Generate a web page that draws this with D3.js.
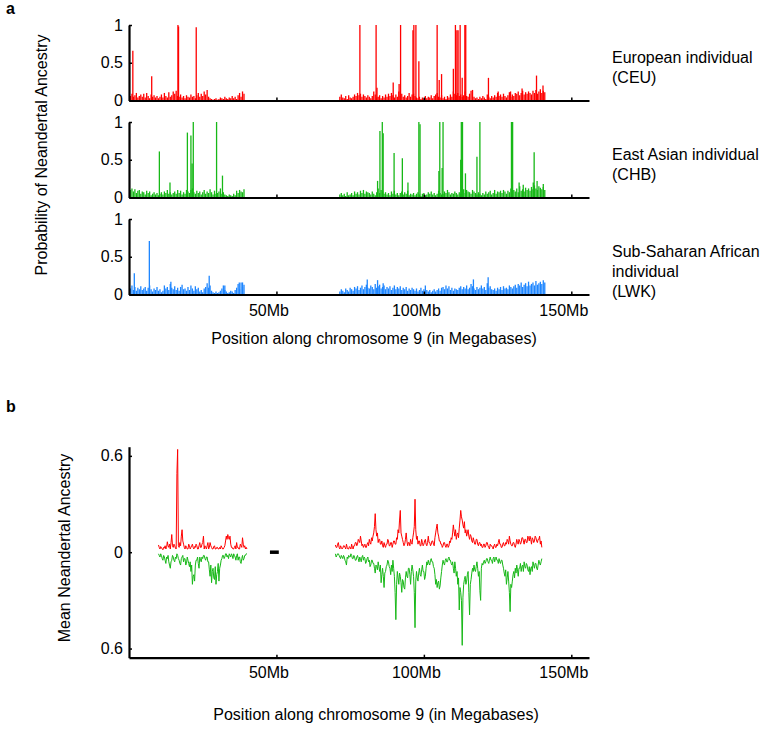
<!DOCTYPE html>
<html><head><meta charset="utf-8">
<script src="https://cdn.jsdelivr.net/npm/d3@7"></script>
<style>
body{margin:0;background:#fff}
text{font-family:"Liberation Sans",Arial,Helvetica,sans-serif;fill:#000}
</style>
</head><body>
<svg id="chart" width="764" height="738"></svg>
<script>
// ---------------- DATA ----------------
// Panel a: per-window probability of Neandertal ancestry (windows every 0.5 Mb)
const gridStep = 0.5;
const leftStartA = 0.5;    // first window of p-arm segment (Mb)
const rightStartA = 71.5;  // first window of q-arm segment (Mb)

const ceuLeft = [.06,.09,.05,.07,.1,.04,.06,.08,.05,.09,
 .04,.1,.06,.03,.08,.05,.07,.04,.06,.03,
 .05,.08,.04,.1,.06,.04,.11,.05,.07,.12,
 .09,.13,.06,.05,.08,.04,.06,.03,.07,.05,
 .04,.08,.05,.06,.03,.07,.1,.05,.09,.06,
 .12,.08,.14,.05,.03,.02,.01,.02,.03,.01,
 .02,.04,.03,.02,.05,.03,.02,.04,.03,.06,
 .03,.05,.02,.07,.1,.05,.12,.09];
const ceuRight = [.05,.08,.04,.03,.06,.02,.07,.04,.03,.05,
 .08,.06,.1,.07,.09,.05,.08,.06,.04,.07,
 .05,.03,.06,.12,.08,.04,.05,.07,.03,.06,
 .04,.08,.05,.09,.06,.1,.07,.04,.08,.05,
 .12,.06,.09,.05,.07,.04,.06,.1,.05,.08,
 .09,.06,.04,.03,.05,.02,.04,.03,.06,.03,
 .05,.04,.07,.03,.06,.08,.1,.05,.04,.07,
 .03,.05,.02,.06,.04,.08,.05,.12,.09,.07,
 .1,.06,.08,.05,.07,.12,.06,.05,.09,.13,
 .14,.05,.03,.04,.02,.05,.03,.06,.04,.02,
 .08,.05,.03,.06,.04,.07,.05,.1,.06,.08,
 .05,.09,.06,.04,.07,.11,.05,.08,.06,.1,
 .09,.12,.07,.1,.13,.08,.11,.09,.12,.1,
 .08,.13,.1,.14,.09,.12,.15,.1,.13,.11];
const ceuPeakPos = [1.3,7.7,16.6,16.8,22.8,78.3,83.8,84.1,89.6,91.6,92.1,96.3,96.6,97.3,98.3,104.5,105.2,106.0,110.0,110.7,111.2,111.6,112.3,113.0,113.9,114.2,121.9,125.2,129.4,133.3,138.2,140.4];
const ceuPeakVal = [.66,.32,1.0,.98,.97,1.0,1.0,.17,.24,.22,1.0,.93,1.0,1.0,.52,1.0,.27,.35,.42,1.0,.93,.93,1.0,.3,1.0,1.0,.3,.12,.12,.16,.33,.2];

const chbLeft = [.1,.12,.08,.11,.06,.09,.1,.05,.08,.07,
 .04,.09,.06,.08,.03,.05,.07,.04,.06,.03,
 .05,.07,.04,.08,.06,.1,.05,.07,.04,.06,
 .08,.05,.1,.06,.09,.04,.07,.05,.1,.08,
 .06,.1,.12,.07,.05,.09,.06,.08,.04,.07,
 .1,.05,.08,.06,.11,.07,.04,.09,.05,.06,
 .08,.12,.05,.07,.04,.03,.02,.04,.03,.02,
 .05,.03,.09,.06,.1,.08,.07,.11];
const chbRight = [.04,.06,.03,.05,.02,.07,.03,.04,.06,.03,
 .08,.05,.07,.04,.09,.06,.1,.05,.08,.07,
 .06,.04,.08,.05,.03,.07,.12,.06,.1,.08,
 .05,.07,.04,.06,.03,.08,.05,.09,.04,.06,
 .03,.06,.08,.04,.07,.05,.09,.03,.05,.04,
 .06,.03,.05,.07,.04,.02,.05,.06,.03,.04,
 .07,.05,.08,.04,.06,.03,.05,.09,.06,.04,
 .05,.08,.06,.1,.07,.04,.06,.05,.08,.06,
 .04,.07,.05,.09,.11,.06,.1,.08,.07,.05,
 .1,.08,.06,.04,.07,.05,.03,.06,.04,.08,
 .05,.07,.09,.04,.06,.1,.05,.08,.07,.09,
 .06,.1,.08,.05,.09,.07,.12,.06,.1,.08,
 .12,.07,.15,.09,.11,.08,.13,.1,.12,.09,
 .14,.11,.16,.12,.1,.15,.13,.11,.14,.1];
const chbPeakPos = [10.3,13.9,19.8,21.0,21.4,21.8,29.7,31.7,84.3,85.1,85.9,86.2,89.9,92.7,94.6,98.3,98.7,105.1,105.4,106.2,106.5,112.5,112.7,113.1,114.1,118.0,119.0,129.7,130.1,132.3,133.7,137.1,137.4,138.4,140.5];
const chbPeakVal = [.61,.2,.86,.82,.45,1.0,1.0,.29,.22,.88,1.0,.85,.59,.52,.2,1.0,.97,.35,1.0,.39,1.0,.5,1.0,1.0,.32,.54,1.0,1.0,1.0,.2,.17,.2,.6,.22,.18];

const lwkLeft = [.08,.12,.06,.1,.05,.09,.07,.11,.06,.08,
 .1,.05,.09,.12,.07,.04,.08,.06,.1,.05,
 .07,.03,.05,.12,.08,.1,.06,.14,.09,.07,
 .11,.06,.09,.05,.1,.13,.07,.08,.05,.1,
 .06,.12,.08,.05,.11,.07,.09,.04,.06,.03,
 .08,.1,.15,.09,.12,.05,.03,.02,.04,.02,
 .03,.05,.08,.12,.06,.04,.02,.03,.05,.04,
 .02,.06,.09,.14,.07,.16,.1,.13];
const lwkRight = [.04,.07,.05,.03,.08,.06,.04,.09,.07,.05,
 .1,.08,.11,.06,.09,.12,.07,.1,.13,.09,
 .08,.12,.1,.07,.14,.09,.11,.13,.08,.1,
 .12,.07,.1,.08,.11,.06,.09,.12,.07,.1,
 .08,.11,.06,.09,.07,.1,.05,.08,.06,.09,
 .07,.05,.08,.04,.06,.09,.05,.07,.12,.06,
 .04,.06,.03,.05,.07,.04,.06,.08,.05,.09,
 .1,.07,.12,.08,.11,.06,.09,.05,.08,.07,
 .06,.09,.11,.07,.1,.08,.12,.07,.09,.14,
 .11,.08,.06,.1,.07,.09,.12,.08,.1,.06,
 .15,.09,.11,.07,.06,.08,.05,.09,.07,.1,
 .06,.11,.08,.09,.07,.12,.1,.08,.11,.13,
 .09,.14,.12,.16,.1,.13,.15,.11,.17,.12,
 .14,.16,.12,.18,.13,.15,.17,.14,.19,.16];
const lwkPeakPos = [1.8,6.9,14.2,27.2,32.5,37.4,38.5,80.8,84.3,86.2,116.8,121.8];
const lwkPeakVal = [.28,.71,.17,.25,.12,.16,.16,.2,.19,.15,.2,.23];

const panelLabels = [["European individual","(CEU)"],["East Asian individual","(CHB)"],["Sub-Saharan African","individual","(LWK)"]];
const panelColors = ["#ff0000","#17b817","#1e86ff"];
const probTicks = [0, 0.5, 1];
const probTickLabels = ["0","0.5","1"];

// Panel b: mean Neandertal ancestry (windows every 0.25 Mb); CHB drawn downward
const meanStep = 0.25;
const leftStartB = 10;
const rightStartB = 70;
const ceuMeanLeft = [
 .045,.03,.02,.035,.03,.02,.015,.03,.025,.04,.02,.03,.065,.04,.03,.05,.02,.06,.11,.04,
 .03,.05,.04,.025,.02,.49,.64,.04,.03,.06,.04,.1,.14,.07,.05,.03,.02,.04,.03,.02,
 .02,.05,.04,.02,.03,.04,.05,.03,.02,.035,.03,.05,.04,.02,.02,.04,.06,.03,.03,.05,
 .06,.1,.02,.04,.03,.02,.04,.06,.02,.03,.06,.04,.03,.02,.02,.035,.04,.02,.02,.03,
 .03,.02,.02,.03,.02,.04,.03,.02,.02,.03,.04,.07,.1,.08,.11,.09,.08,.1,.05,.03,
 .03,.02,.02,.03,.04,.02,.06,.03,.03,.02,.02,.05,.04,.03,.09,.05,.03,.04,.02,.03,
 .02];
const chbMeanLeft = [
 -.01,-.02,-.03,-.01,-.02,-.04,-.05,-.02,-.03,-.05,-.07,-.03,-.04,-.02,-.06,-.08,-.1,-.06,-.05,-.02,
 -.03,-.05,-.06,-.03,-.04,-.01,-.02,-.04,-.05,-.07,-.08,-.04,-.03,-.02,-.06,-.04,-.04,-.08,-.07,-.03,
 -.05,-.07,-.09,-.06,-.12,-.08,-.2,-.15,-.14,-.18,-.08,-.05,-.05,-.03,-.07,-.1,-.03,-.05,-.06,-.03,
 -.04,-.02,-.02,-.04,-.05,-.03,-.03,-.06,-.06,-.11,-.15,-.08,-.19,-.12,-.1,-.16,-.17,-.09,-.2,-.14,
 -.12,-.07,-.18,-.1,-.08,-.05,-.04,-.02,-.02,-.04,-.03,-.01,-.01,-.03,-.02,-.04,-.01,-.02,-.03,-.01,
 -.02,-.04,-.01,-.02,-.03,-.05,-.02,-.01,-.05,-.03,-.03,-.06,-.07,-.04,-.02,-.05,-.04,-.02,-.02,-.01,
 -.01];
const ceuMeanRight = [
 .045,.03,.03,.05,.06,.03,.02,.04,.03,.02,.025,.04,.04,.03,.02,.05,.03,.02,.02,.035,
 .03,.02,.05,.03,.02,.04,.04,.06,.06,.04,.05,.08,.07,.06,.1,.07,.04,.05,.03,.04,
 .05,.03,.03,.05,.06,.04,.08,.06,.05,.09,.07,.1,.12,.16,.24,.14,.1,.12,.06,.08,
 .08,.05,.05,.07,.04,.03,.06,.04,.03,.05,.05,.08,.07,.04,.04,.06,.06,.03,.05,.07,
 .07,.05,.05,.09,.08,.14,.12,.2,.26,.12,.1,.08,.06,.04,.05,.08,.12,.07,.04,.06,
 .06,.04,.08,.06,.05,.09,.12,.16,.33,.14,.08,.1,.05,.07,.07,.04,.04,.08,.06,.04,
 .05,.07,.08,.05,.04,.06,.1,.06,.06,.04,.05,.07,.07,.05,.04,.09,.12,.15,.175,.12,
 .1,.07,.07,.05,.05,.03,.04,.06,.06,.04,.03,.05,.05,.03,.04,.07,.06,.09,.08,.12,
 .17,.13,.1,.14,.08,.11,.12,.09,.15,.2,.26,.22,.2,.17,.15,.19,.12,.14,.1,.12,
 .14,.1,.08,.11,.1,.07,.06,.09,.07,.05,.05,.08,.08,.05,.04,.06,.06,.04,.05,.03,
 .03,.05,.05,.03,.04,.06,.06,.04,.03,.02,.05,.04,.04,.03,.02,.04,.05,.03,.03,.05,
 .04,.06,.08,.05,.05,.03,.03,.05,.06,.04,.04,.06,.05,.08,.07,.05,.1,.07,.05,.04,
 .04,.06,.06,.04,.03,.05,.08,.06,.05,.08,.07,.05,.06,.09,.09,.07,.05,.08,.08,.06,
 .06,.1,.09,.07,.1,.08,.05,.09,.08,.06,.07,.1,.09,.07,.06,.08,.08,.1,.05,.07,
 .03];
const chbMeanRight = [
 -.01,-.03,-.02,-.01,-.01,-.02,-.03,-.04,-.02,-.03,-.04,-.02,-.03,-.05,-.06,-.08,-.03,-.04,-.02,-.03,
 -.03,-.01,-.02,-.04,-.04,-.02,-.03,-.05,-.05,-.03,-.02,-.04,-.06,-.03,-.04,-.06,-.03,-.02,-.05,-.03,
 -.04,-.07,-.06,-.04,-.03,-.06,-.05,-.09,-.08,-.05,-.05,-.07,-.07,-.1,-.13,-.08,-.09,-.11,-.06,-.09,
 -.12,-.08,-.19,-.14,-.1,-.15,-.22,-.13,-.12,-.09,-.08,-.05,-.06,-.09,-.1,-.14,-.08,-.12,-.05,-.1,
 -.15,-.25,-.42,-.2,-.12,-.16,-.2,-.13,-.15,-.19,-.25,-.17,-.18,-.22,-.23,-.16,-.12,-.15,-.16,-.1,
 -.1,-.14,-.2,-.12,-.08,-.11,-.15,-.25,-.47,-.18,-.12,-.16,-.18,-.13,-.1,-.14,-.15,-.11,-.08,-.12,
 -.12,-.17,-.15,-.1,-.06,-.08,-.05,-.07,-.08,-.05,-.04,-.06,-.06,-.09,-.1,-.14,-.2,-.17,-.22,-.19,
 -.18,-.23,-.21,-.16,-.12,-.08,-.05,-.07,-.08,-.05,-.04,-.06,-.06,-.04,-.03,-.05,-.05,-.07,-.08,-.06,
 -.1,-.13,-.06,-.1,-.15,-.12,-.2,-.16,-.36,-.22,-.25,-.3,-.58,-.28,-.2,-.17,-.15,-.2,-.18,-.14,
 -.12,-.25,-.39,-.2,-.17,-.13,-.1,-.12,-.08,-.11,-.12,-.09,-.06,-.1,-.15,-.12,-.24,-.3,-.1,-.07,
 -.08,-.06,-.05,-.07,-.06,-.04,-.04,-.06,-.07,-.05,-.03,-.05,-.05,-.07,-.04,-.03,-.06,-.04,-.03,-.05,
 -.05,-.07,-.04,-.06,-.07,-.05,-.05,-.08,-.1,-.13,-.15,-.11,-.2,-.16,-.12,-.18,-.25,-.37,-.2,-.22,
 -.18,-.14,-.12,-.16,-.1,-.13,-.08,-.11,-.15,-.1,-.1,-.07,-.12,-.09,-.08,-.12,-.06,-.09,-.1,-.07,
 -.08,-.11,-.12,-.09,-.14,-.1,-.09,-.12,-.06,-.08,-.1,-.07,-.07,-.1,-.11,-.08,-.05,-.07,-.08,-.06,
 -.04];
const centromereMark = [47.8, 50.8];   // short black segment on the zero line (Mb)
const meanTicks = [-0.6, 0, 0.6];
const meanTickLabels = ["0.6","0","0.6"];

const mbTicks = [50, 100, 150];
const mbTickLabels = ["50Mb","100Mb","150Mb"];
const xTitle = "Position along chromosome 9 (in Megabases)";

// ---------------- DRAWING ----------------
const svg = d3.select("#chart");
const FS = 16;
const x = d3.scaleLinear().domain([0, 156]).range([129, 589]);

const toPts = (start, vals, step) => vals.map((v, i) => ({pos: start + i * step, val: v}));

svg.append("text").attr("x", 6).attr("y", 14).attr("font-size", 16).attr("font-weight", "bold").text("a");
svg.append("text").attr("x", 6).attr("y", 412).attr("font-size", 16).attr("font-weight", "bold").text("b");

const panels = [
  {left: ceuLeft, right: ceuRight, pp: ceuPeakPos, pv: ceuPeakVal},
  {left: chbLeft, right: chbRight, pp: chbPeakPos, pv: chbPeakVal},
  {left: lwkLeft, right: lwkRight, pp: lwkPeakPos, pv: lwkPeakVal}
];
const panelTops = [25, 122, 219];
const panelH = 75.5;

function styleAxis(a) {
  a.select(".domain").attr("stroke", "#000").attr("stroke-width", 2.2);
  a.selectAll(".tick line").attr("stroke", "#000").attr("stroke-width", 1.5);
  a.selectAll(".tick text").attr("font-size", FS).attr("font-family", '"Liberation Sans",Arial,sans-serif').attr("fill", "#000");
}

panels.forEach((p, i) => {
  const y = d3.scaleLinear().domain([0, 1]).range([panelTops[i] + panelH, panelTops[i]]);
  const g = svg.append("g");
  const pts = toPts(leftStartA, p.left, gridStep).concat(toPts(rightStartA, p.right, gridStep));
  const peaks = p.pp.map((d, k) => ({pos: d, val: p.pv[k]}));
  g.append("g").selectAll("line").data(pts.concat(peaks)).join("line")
    .attr("x1", d => x(d.pos)).attr("x2", d => x(d.pos))
    .attr("y1", y(0)).attr("y2", d => y(d.val))
    .attr("stroke", panelColors[i]).attr("stroke-width", 1.3);

  const ya = g.append("g").attr("transform", `translate(${x(0)},0)`)
    .call(d3.axisLeft(y).tickValues(probTicks).tickFormat((d, k) => probTickLabels[k]).tickSizeInner(-3).tickSizeOuter(0).tickPadding(6));
  const xa = g.append("g").attr("transform", `translate(0,${y(0)})`)
    .call(d3.axisBottom(x).tickValues(mbTicks).tickFormat((d, k) => i === 2 ? mbTickLabels[k] : "").tickSizeInner(-3).tickSizeOuter(0).tickPadding(10));
  styleAxis(ya); styleAxis(xa);
  xa.selectAll(".tick text").attr("dx", -8);

  const lab = panelLabels[i];
  const t = svg.append("text").attr("x", 612).attr("y", panelTops[i] + 38).attr("font-size", FS);
  lab.forEach((s, k) => t.append("tspan").attr("x", 612).attr("dy", k === 0 ? 0 : 20).text(s));
});

svg.append("text").attr("transform", "translate(47,155) rotate(-90)").attr("text-anchor", "middle")
  .attr("font-size", FS).text("Probability of Neandertal Ancestry");
svg.append("text").attr("x", 374).attr("y", 344).attr("text-anchor", "middle").attr("font-size", FS).text(xTitle);

// Panel b
const yb = d3.scaleLinear().domain([-0.657, 0.657]).range([657.7, 446.7]);
const gb = svg.append("g");
const line = d3.line().x(d => x(d.pos)).y(d => yb(d.val));
[[leftStartB, ceuMeanLeft, panelColors[0]], [rightStartB, ceuMeanRight, panelColors[0]],
 [leftStartB, chbMeanLeft, panelColors[1]], [rightStartB, chbMeanRight, panelColors[1]]].forEach(([s, v, c]) => {
  gb.append("path").datum(toPts(s, v, meanStep)).attr("d", line).attr("fill", "none").attr("stroke", c).attr("stroke-width", 1);
});
gb.append("line").attr("x1", x(centromereMark[0])).attr("x2", x(centromereMark[1]))
  .attr("y1", yb(0)).attr("y2", yb(0)).attr("stroke", "#000").attr("stroke-width", 3.5);

const yba = gb.append("g").attr("transform", `translate(${x(0)},0)`)
  .call(d3.axisLeft(yb).tickValues(meanTicks).tickFormat((d, k) => meanTickLabels[k]).tickSizeInner(-3).tickSizeOuter(0).tickPadding(6));
const xba = gb.append("g").attr("transform", `translate(0,${yb.range()[0]})`)
  .call(d3.axisBottom(x).tickValues(mbTicks).tickFormat((d, k) => mbTickLabels[k]).tickSizeInner(-3).tickSizeOuter(0).tickPadding(9));
styleAxis(yba); styleAxis(xba);
xba.selectAll(".tick text").attr("dx", -8);

svg.append("text").attr("transform", "translate(70,548) rotate(-90)").attr("text-anchor", "middle")
  .attr("font-size", FS).text("Mean Neandertal Ancestry");
svg.append("text").attr("x", 376).attr("y", 720).attr("text-anchor", "middle").attr("font-size", FS).text(xTitle);
</script>
</body></html>
